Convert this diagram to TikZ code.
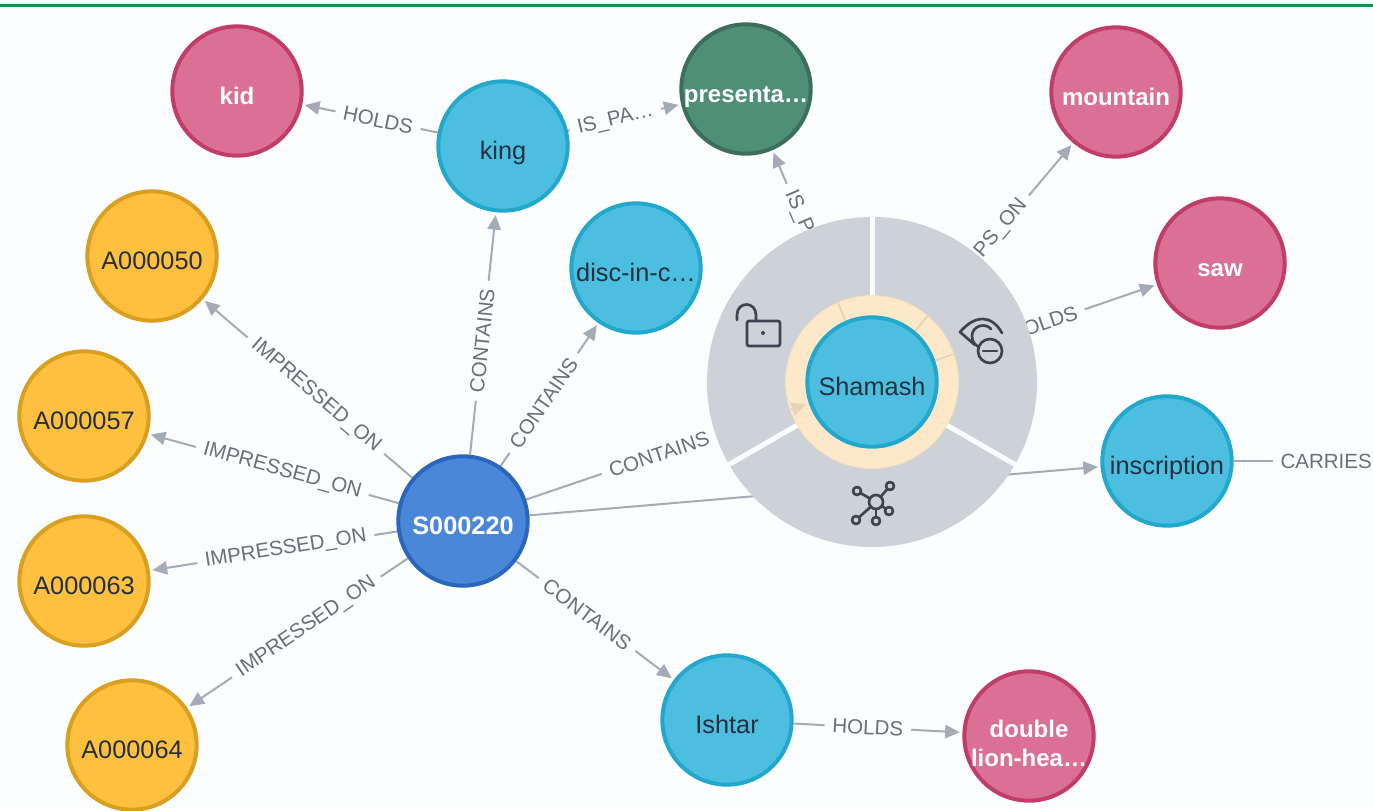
\documentclass[tikz,border=0pt]{standalone}
\usepackage{fontspec}
\setmainfont{Liberation Sans}
\usetikzlibrary{arrows.meta}
\definecolor{bgc}{HTML}{FBFDFF}
\definecolor{edgec}{HTML}{A5ABB6}
\definecolor{labelc}{HTML}{6A6F78}
\definecolor{darktext}{HTML}{233040}
\definecolor{menuc}{HTML}{CDD1D8}
\definecolor{ringc}{HTML}{FFE3B8}
\definecolor{iconc}{HTML}{3C4450}
\definecolor{greenbar}{HTML}{1E8A4C}
\definecolor{pinkf}{HTML}{DB7096}\definecolor{pinkb}{HTML}{C23C69}
\definecolor{orangef}{HTML}{FFC040}\definecolor{orangeb}{HTML}{D9A020}
\definecolor{tealf}{HTML}{4F8F78}\definecolor{tealb}{HTML}{3D6E5C}
\definecolor{bluef}{HTML}{4A87D8}\definecolor{blueb}{HTML}{2A66BC}
\definecolor{skyf}{HTML}{4CBEE0}\definecolor{skyb}{HTML}{22A8CC}
\pgfdeclarelayer{edgelayer}\pgfdeclarelayer{menulayer}\pgfdeclarelayer{bglayer}
\pgfsetlayers{bglayer,edgelayer,menulayer,main}
\newcommand\ntext[2]{\smash{\makebox[0pt]{\raisebox{#1}{#2}}}}
\newcommand\ctext[1]{\ntext{-9.75pt}{#1}}
\tikzset{
  x=.75pt,y=-.75pt,
  gnode/.style={circle,inner sep=0pt,minimum size=97pt,line width=3pt,
    font=\fontsize{19}{22}\selectfont},
  darkn/.style={gnode,text=darktext},
  whiten/.style={gnode,text=white,font=\fontsize{18}{22}\selectfont\bfseries},
  pinkn/.style={whiten,fill=pinkf,draw=pinkb},
  orangen/.style={darkn,fill=orangef,draw=orangeb},
  tealn/.style={whiten,fill=tealf,draw=tealb},
  bluen/.style={whiten,fill=bluef,draw=blueb,font=\fontsize{19}{22}\selectfont\bfseries},
  skyn/.style={darkn,fill=skyf,draw=skyb},
  rel/.style={draw=edgec,line width=1.5pt,-{Triangle[length=11pt,width=10pt,fill=edgec]},shorten >=2pt},
  plainrel/.style={draw=edgec,line width=1.5pt},
  elabel/.style={sloped,fill=bgc,text=labelc,inner xsep=6pt,inner ysep=1pt,
    font=\fontsize{15.4}{18}\selectfont},
  icon/.style={draw=iconc,line width=2pt,line cap=round,line join=round},
  gapline/.style={draw=bgc,line width=3.75pt}
}
\begin{document}
\begin{tikzpicture}
\useasboundingbox (0,0) rectangle (1373,810);
\clip (0,0) rectangle (1373,810);
% nodes
\node[pinkn] (kid) at (237,91) {\ctext{kid}};
\node[skyn] (king) at (503,146) {\ctext{king}};
\node[tealn] (pres) at (746,89) {\ctext{presenta…}};
\node[pinkn] (mountain) at (1116,92) {\ctext{mountain}};
\node[pinkn] (saw) at (1220,263) {\ctext{saw}};
\node[skyn] (disc) at (636,268) {\ctext{disc-in-c…}};
\node[orangen] (a50) at (152,256) {\ctext{A000050}};
\node[orangen] (a57) at (84,416) {\ctext{A000057}};
\node[orangen] (a63) at (84,581) {\ctext{A000063}};
\node[orangen] (a64) at (132,745) {\ctext{A000064}};
\node[bluen] (s) at (463,521) {\ctext{S000220}};
\node[skyn] (shamash) at (872,382) {\ctext{Shamash}};
\node[skyn] (inscr) at (1167,461) {\ctext{inscription}};
\node[skyn] (ishtar) at (727,720) {\ctext{Ishtar}};
\node[pinkn] (double) at (1029,736) {\ntext{-.75pt}{double}\ntext{-22.5pt}{lion-hea…}};
\coordinate (carriesend) at (1373,461);
% background
\begin{pgfonlayer}{bglayer}
\fill[bgc] (0,0) rectangle (1373,810);
\fill[greenbar] (0,4) rectangle (1373,6.5);
\end{pgfonlayer}
% edges
\begin{pgfonlayer}{edgelayer}
\draw[rel] (s) -- node[elabel,pos=.46] {IMPRESSED\_ON} (a50);
\draw[rel] (s) -- node[elabel,pos=.465] {IMPRESSED\_ON} (a57);
\draw[rel] (s) -- node[elabel,pos=.45] {IMPRESSED\_ON} (a63);
\draw[rel] (s) -- node[elabel,pos=.46] {IMPRESSED\_ON} (a64);
\draw[rel] (s) -- node[elabel,pos=.47] {CONTAINS} (king);
\draw[rel] (s) -- node[elabel,pos=.44] {CONTAINS} (disc);
\draw[rel] (s) -- node[elabel,pos=.47] {CONTAINS} (shamash);
\draw[rel] (s) -- node[elabel,pos=.45] {CONTAINS} (ishtar);
\draw[rel] (s) -- (inscr);
\draw[rel] (ishtar) -- node[elabel,pos=.44] {HOLDS} (double);
\draw[rel] (king) -- node[elabel,pos=.44] {HOLDS} (kid);
\draw[rel] (king) -- node[elabel,pos=.42] {IS\_PA…} (pres);
\draw[rel] (shamash) -- node[elabel,pos=.64] {IS\_P} (pres);
\draw[rel] (shamash) -- node[elabel,pos=.545] {PS\_ON} (mountain);
\draw[rel] (shamash) -- node[elabel,pos=.52] {OLDS} (saw);
\draw[plainrel] (inscr) -- node[elabel,pos=.664] {CARRIES} (carriesend);
\end{pgfonlayer}
% radial menu
\begin{pgfonlayer}{menulayer}
\fill[menuc,even odd rule] (872,382) circle [radius=165] circle [radius=86];
\draw[gapline] (872,296) -- (872,210);
\draw[gapline] (797.5,425) -- (722,468.5);
\draw[gapline] (946.5,425) -- (1022,468.5);
\fill[ringc,opacity=.75] (872,382) circle [radius=87];
% lock icon
\draw[icon,rounded corners=1.5pt] (747,321) rectangle (780,346);
\draw[icon] (737,320) -- (737,315) .. controls (737,301) and (756,301) .. (756,315) -- (756,321);
\fill[iconc] (763,333) circle [radius=2];
% eye-minus icon
\draw[icon] (975,345) -- (960,332) .. controls (968,323) and (975,319) .. (983,319) .. controls (990,319) and (997,324) .. (1002,333);
\draw[icon] (991,329) .. controls (985,322) and (972,326) .. (972,336) .. controls (972,342) and (975,345) .. (979,347);
\draw[icon] (990,351) circle [radius=12];
\draw[icon] (983,351) -- (997,351);
% network icon
\draw[icon] (876,502) -- (857,491);
\draw[icon] (876,502) -- (890,486);
\draw[icon] (876,502) -- (889,511);
\draw[icon] (876,502) -- (876,521);
\draw[icon] (876,502) -- (856,520);
\draw[icon,fill=menuc] (876,502) circle [radius=7];
\draw[icon,fill=menuc] (857,491) circle [radius=4];
\draw[icon,fill=menuc] (890,486) circle [radius=4];
\draw[icon,fill=menuc] (889,511) circle [radius=4];
\draw[icon,fill=menuc] (876,521) circle [radius=4];
\draw[icon,fill=menuc] (856,520) circle [radius=4];
\end{pgfonlayer}
\end{tikzpicture}
\end{document}
